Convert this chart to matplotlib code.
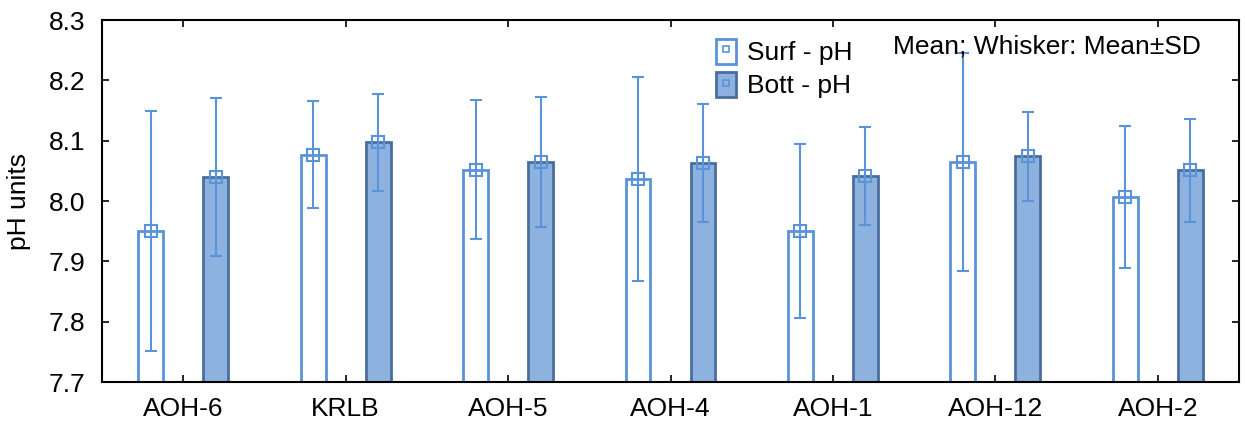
import numpy as np
import matplotlib
matplotlib.use("Agg")
import matplotlib.pyplot as plt
from matplotlib.lines import Line2D
from matplotlib.patches import Patch

plt.rcParams['font.family'] = ['Liberation Sans', 'DejaVu Sans']

# Site names and statistics (mean, SD)
sites = ["AOH-6", "KRLB", "AOH-5", "AOH-4", "AOH-1", "AOH-12", "AOH-2"]
surf_mean = [7.950, 8.077, 8.052, 8.036, 7.950, 8.065, 8.007]
surf_sd = [0.199, 0.088, 0.115, 0.169, 0.144, 0.181, 0.118]
bott_mean = [8.040, 8.097, 8.065, 8.063, 8.042, 8.074, 8.051]
bott_sd = [0.131, 0.080, 0.108, 0.098, 0.081, 0.074, 0.085]

surf_edge = '#5B93D9'
bott_fill = '#8EB2E0'
bott_edge = '#4A6E9E'
whisk_col = '#5B93D9'
fs = 19

fig = plt.figure(figsize=(12.45, 4.32), dpi=100)
ax = fig.add_axes([102 / 1245, 1 - 382 / 432, (1239 - 102) / 1245, (382 - 20) / 432])

x = np.arange(len(sites))
off = 0.2
w = 0.153
base = 7.7

# bars
ax.bar(x - off, np.array(surf_mean) - base, w, bottom=base, color='white',
       edgecolor=surf_edge, linewidth=2, zorder=2)
ax.bar(x + off, np.array(bott_mean) - base, w, bottom=base, color=bott_fill,
       edgecolor=bott_edge, linewidth=2, zorder=2)

# whiskers and mean markers
for xs, m, s in [(x - off, surf_mean, surf_sd), (x + off, bott_mean, bott_sd)]:
    ax.errorbar(xs, m, yerr=s, fmt='none', ecolor=whisk_col, elinewidth=1.5,
                capsize=4, capthick=1.5, zorder=3)
    ax.plot(xs, m, 's', ms=8.5, mfc='none', mec=whisk_col, mew=1.5, zorder=4)

yt = np.arange(7.7, 8.31, 0.1)
ax.set_xlim(-0.5, 6.5)
ax.set_ylim(7.7, 8.3)
ax.set_yticks(yt)
ax.set_yticklabels([f"{v:.1f}" for v in yt])
ax.set_xticks(x)
ax.set_xticklabels(sites)
ax.tick_params(direction='in', top=True, right=True, length=5, width=1.2,
               labelsize=fs)
ax.tick_params(axis='y', pad=12)
ax.tick_params(axis='x', pad=11)
for sp in ax.spines.values():
    sp.set_linewidth(1.5)
ax.set_ylabel("pH units", fontsize=fs, labelpad=13)

# legend
handles = [
    (Patch(facecolor='white', edgecolor=surf_edge, linewidth=2),
     Line2D([], [], marker='s', ms=5, mfc='none', mec=whisk_col, mew=1.2, ls='none')),
    (Patch(facecolor=bott_fill, edgecolor=bott_edge, linewidth=2),
     Line2D([], [], marker='s', ms=5, mfc='none', mec=whisk_col, mew=1.2, ls='none')),
]
ax.legend(handles, ["Surf - pH", "Bott - pH"], loc='upper left',
          bbox_to_anchor=(0.528, 0.985), frameon=False, fontsize=fs, borderpad=0,
          handlelength=0.76, handleheight=1.1, handletextpad=0.45, labelspacing=0.25)

ax.text(0.696, 0.928, "Mean; Whisker: Mean±SD", transform=ax.transAxes,
        fontsize=fs, ha='left', va='center')

fig.savefig("out.png", dpi=100)
